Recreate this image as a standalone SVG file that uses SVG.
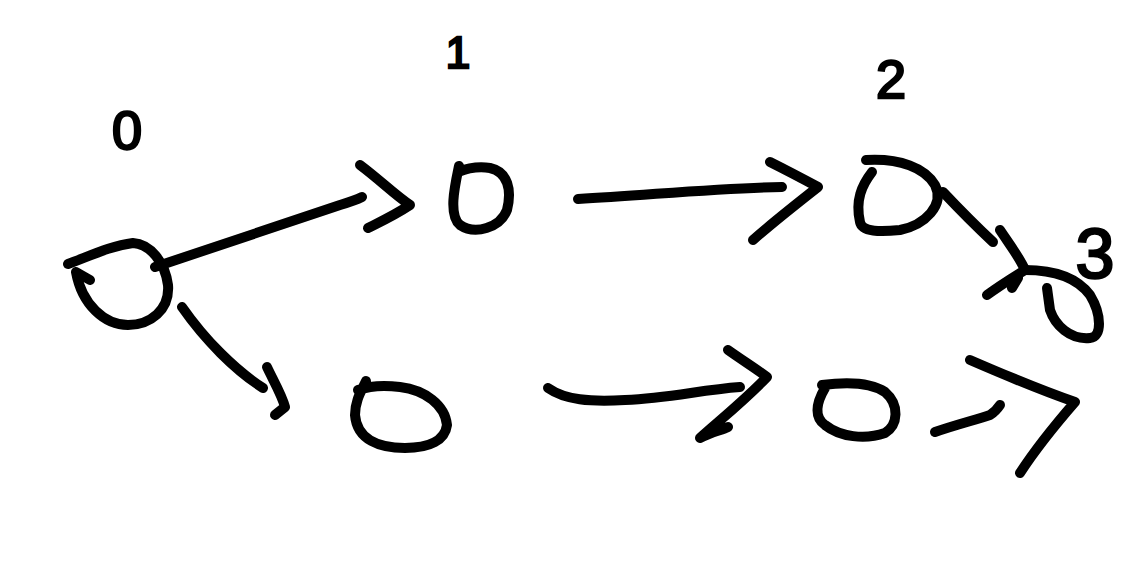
<svg xmlns="http://www.w3.org/2000/svg" width="1145" height="566" viewBox="0 0 1145 566">
<style>
.s{fill:none;stroke:#000;stroke-width:10;stroke-linecap:round;stroke-linejoin:round}
.t{font-family:"Liberation Sans",Arial,sans-serif;fill:#000;stroke:#000;stroke-width:2.5;text-anchor:middle}
</style>
<rect width="1145" height="566" fill="#fff"/>
<g id="node0">
<path class="s" d="M68 264 C90 256 110 246 133 243 C150 244 165 262 168 285 C170 310 150 325 128 325 C105 325 82 305 76 272 M76 272 L90 280"/>
<text class="t" x="127" y="149" font-size="54">0</text>
</g>
<g id="node1">
<path class="s" d="M459 166 C455 185 448 215 460 225 C475 235 500 228 507 210 C512 190 508 172 490 168 C478 166 468 168 458 172"/>
<text class="t" x="458" y="68" font-size="44">1</text>
</g>
<g id="node2">
<path class="s" d="M866 160 C900 158 925 168 935 185 C945 205 925 225 900 230 C880 232 862 232 860 222 C855 200 862 185 872 172"/>
<text class="t" x="891" y="98" font-size="54">2</text>
</g>
<g id="node3">
<path class="s" d="M1025 270 C1050 270 1075 275 1090 295 C1102 315 1102 337 1090 338 C1070 340 1055 325 1050 310 L1047 288"/>
<text class="t" x="1095" y="278" font-size="70">3</text>
</g>
<g id="node4">
<path class="s" d="M366 381 C362 390 355 400 355 415 C357 440 380 448 405 448 C430 448 445 440 447 425 C445 405 425 390 400 387 C385 385 372 385 358 390"/>
</g>
<g id="node5">
<path class="s" d="M822 385 C845 382 870 382 885 392 C900 405 898 425 885 433 C865 440 840 437 825 425 C815 418 815 405 825 388"/>
</g>
<g id="connectors">
<path class="s" d="M155 267 C220 245 280 225 340 205 C350 202 356 200 362 197"/>
<path class="s" d="M360 165 C380 180 395 195 410 205 C395 215 380 222 368 228"/>
<path class="s" d="M578 199 C650 195 720 188 782 187"/>
<path class="s" d="M770 162 C790 172 805 180 818 187 C795 205 770 225 753 240"/>
<path class="s" d="M943 192 C960 210 978 228 993 242"/>
<path class="s" d="M1000 230 C1010 245 1020 258 1025 270 C1012 278 998 287 987 295 M1012 288 L1018 278"/>
<path class="s" d="M182 307 C205 340 235 370 263 388"/>
<path class="s" d="M267 367 C273 380 282 395 285 407 L275 415"/>
<path class="s" d="M548 388 C565 400 590 402 625 400 C670 398 700 390 740 387"/>
<path class="s" d="M728 350 C742 360 755 368 767 377 C745 400 720 420 700 438 C712 432 722 430 728 427"/>
<path class="s" d="M935 432 C955 425 975 420 990 415 C995 412 998 408 1000 405"/>
<path class="s" d="M970 360 C1000 373 1040 390 1075 402 C1055 425 1035 450 1020 473"/>
</g>
</svg>
